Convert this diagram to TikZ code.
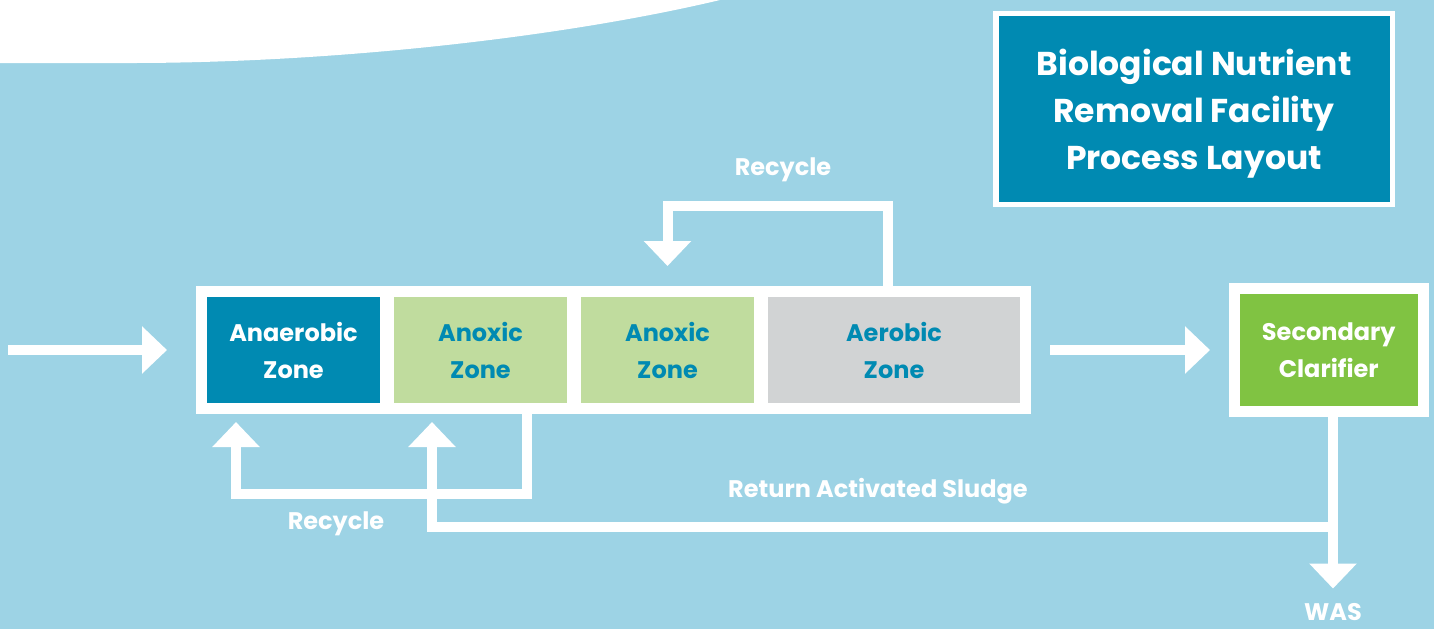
\documentclass[tikz,border=0pt]{standalone}
\usepackage{fontspec}
\setmainfont{Poppins}
\usetikzlibrary{arrows.meta,positioning,fit,backgrounds}

\definecolor{skyblue}{HTML}{9DD3E5}
\definecolor{bnrblue}{HTML}{008AB2}
\definecolor{anoxgreen}{HTML}{C0DC9E}
\definecolor{aergray}{HTML}{D1D3D4}
\definecolor{clargreen}{HTML}{80C342}

\begin{document}
\begin{tikzpicture}[
    x = 0.5pt, y = -0.5pt, % one unit is one pixel of the layout
    > = {Triangle[width=23pt,length=12.5pt]}, % arrow head style
    font = \bfseries\fontsize{12}{18.5}\selectfont,
    ]

    \tikzset{zone/.style = {
    minimum width = 86.5pt,
    minimum height = 53pt,
    inner sep = 0pt,
    outer sep = 0pt,
    align = center
    },
    flow/.style = {draw = white, line width = 5pt},
    tag/.style = {text = white, inner sep = 0pt, anchor = base}
    }
    \useasboundingbox (0,0) rectangle (1434,629);

    % the tank and its zones
    \node[zone, fill = bnrblue, text = white] (ana) at (293.5,350) {Anaerobic\\Zone};
    \node[zone, fill = anoxgreen, text = bnrblue] (ax1) [right=7pt of ana] {Anoxic\\Zone};
    \node[zone, fill = anoxgreen, text = bnrblue] (ax2) [right=7pt of ax1] {Anoxic\\Zone};
    \node[zone, fill = aergray, text = bnrblue, minimum width = 126pt] (aer) [right=7pt of ax2] {Aerobic\\Zone};

    \begin{scope}[on background layer]
    \fill[skyblue] (0,0) rectangle (1434,629);
    \fill[white] (0,0) -- (0,63) -- (130,63) .. controls (330,63) and (560,38) .. (720,0) -- cycle;
    \node[fill = white, inner sep = 5.5pt, outer sep = 0pt, fit = (ana)(aer)] (tank) {};
    \end{scope}

    \node[fill = clargreen, draw = white, line width = 5.5pt, text = white,
    minimum width = 94.25pt, minimum height = 61.5pt, inner sep = 0pt, align = center]
    (clar) at (1328.75,350) {Secondary\\Clarifier};

    \node[fill = bnrblue, draw = white, line width = 2.75pt, text = white,
    minimum width = 198.25pt, minimum height = 95.5pt, align = center, text depth = 0pt,
    font = \bfseries\fontsize{16.5}{23.5}\selectfont]
    (title) at (1194,109) {Biological Nutrient\\Removal Facility\\Process Layout};

    % labels
    \node[tag] (rectop) at (783,175) {Recycle};
    \node[tag] (recbot) at (336,529) {Recycle};
    \node[tag] (raslab) at (878,497) {Return Activated Sludge};
    \node[tag] (was) at (1333,620) {WAS};

    \coordinate (feed) at (8,350);
    \coordinate (rtop) at (780,206);
    \coordinate (rbot) at (380,494);
    \coordinate (ras) at (1333,527);

    % flows
    \draw[flow, ->, shorten > = 14.5pt] (feed) -- (tank.west);
    \draw[flow, ->, shorten < = 9.5pt, shorten > = 9.5pt] (tank.east) -- (clar.west);
    \draw[flow, ->, shorten > = 15.5pt] ([xshift=-3pt]aer.north) |- (rtop) -| (ax2.north);
    \draw[flow, ->, shorten > = 9.5pt] ([xshift=23pt]ax1.south) |- (rbot) -| ([xshift=-28.75pt]ana.south);
    \draw[flow, ->, shorten > = 7pt] (clar.south -| ras) -- (was.north);
    \draw[flow, ->, shorten > = 9.5pt] (ras) -| ([xshift=-24.25pt]ax1.south);
\end{tikzpicture}
\end{document}
